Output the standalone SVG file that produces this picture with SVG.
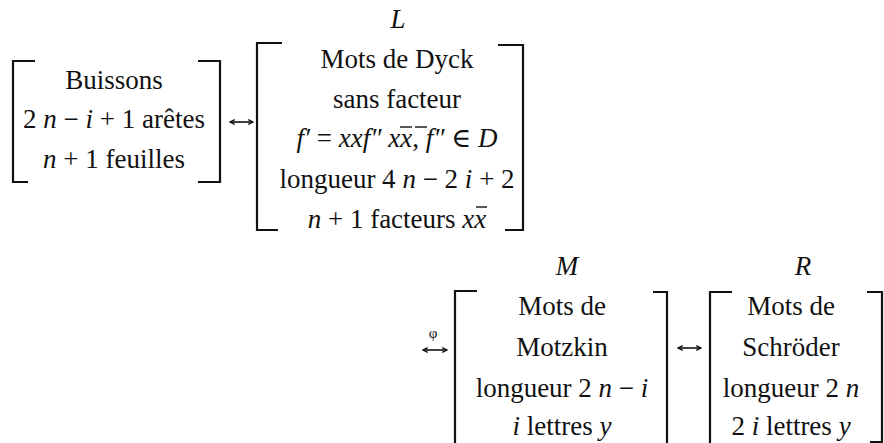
<svg xmlns="http://www.w3.org/2000/svg" width="884" height="443" viewBox="0 0 884 443">
<defs>
<style>
text{font-family:"Liberation Serif","DejaVu Serif",serif;font-size:27px;fill:#111;text-anchor:middle}
.it{font-style:italic}
.br{fill:none;stroke:#111;stroke-width:2.2}
.ar{fill:none;stroke:#111;stroke-width:1.6}
.ol{stroke:#111;stroke-width:1.4}
.phi{font-size:15px}
</style>
<marker id="ah" viewBox="0 0 10 10" refX="9" refY="5" markerWidth="6" markerHeight="7" markerUnits="userSpaceOnUse" orient="auto-start-reverse">
<path d="M1,1 L9,5 L1,9" fill="none" stroke="#111" stroke-width="2.2"/>
</marker>
</defs>
<rect width="884" height="443" fill="#fff"/>
<g id="buissons" font-family="Liberation Serif, DejaVu Serif, serif">
<path class="br" d="M35,61 H13 V182 H28"/>
<path class="br" d="M198,61 H220 V182 H198"/>
<text x="114" y="89">Buissons</text>
<text x="114" y="128">2 <tspan class="it">n</tspan> − <tspan class="it">i</tspan> + 1 arêtes</text>
<text x="114" y="168"><tspan class="it">n</tspan> + 1 feuilles</text>
</g>
<g id="L">
<text class="it" x="398" y="28">L</text>
<path class="br" d="M282,43 H257 V230 H278"/>
<path class="br" d="M498,45 H523 V230 H505"/>
<text x="397" y="68">Mots de Dyck</text>
<text x="397" y="108">sans facteur</text>
<text x="397" y="147"><tspan class="it">f′</tspan> = <tspan class="it">xxf″ xx</tspan>, <tspan class="it">f″</tspan> ∈ <tspan class="it">D</tspan></text>
<line class="ol" x1="400" y1="127" x2="412" y2="127"/>
<line class="ol" x1="415" y1="127" x2="427" y2="127"/>
<text x="397" y="188">longueur 4 <tspan class="it">n</tspan> − 2 <tspan class="it">i</tspan> + 2</text>
<text x="397" y="228"><tspan class="it">n</tspan> + 1 facteurs <tspan class="it">xx</tspan></text>
<line class="ol" x1="476" y1="207" x2="487" y2="207"/>
</g>
<g id="M">
<text class="it" x="567" y="275">M</text>
<path class="br" d="M477,291 H455 V443"/>
<path class="br" d="M653,292 H667 V443"/>
<text x="562" y="315">Mots de</text>
<text x="562" y="356">Motzkin</text>
<text x="562" y="397">longueur 2 <tspan class="it">n</tspan> − <tspan class="it">i</tspan></text>
<text x="562" y="435"><tspan class="it">i</tspan> lettres <tspan class="it">y</tspan></text>
</g>
<g id="R">
<text class="it" x="803" y="275">R</text>
<path class="br" d="M732,292 H710 V443"/>
<path class="br" d="M867,292 H882 V442 H870"/>
<text x="791" y="315">Mots de</text>
<text x="791" y="356">Schröder</text>
<text x="791" y="397">longueur 2 <tspan class="it">n</tspan></text>
<text x="791" y="435">2 <tspan class="it">i</tspan> lettres <tspan class="it">y</tspan></text>
</g>
<g id="connectors">
<line class="ar" x1="230" y1="122" x2="253" y2="122" marker-start="url(#ah)" marker-end="url(#ah)"/>
<line class="ar" x1="423" y1="350" x2="447" y2="350" marker-start="url(#ah)" marker-end="url(#ah)"/>
<text class="phi" x="433" y="338">φ</text>
<line class="ar" x1="678" y1="348" x2="701" y2="348" marker-start="url(#ah)" marker-end="url(#ah)"/>
</g>
</svg>
